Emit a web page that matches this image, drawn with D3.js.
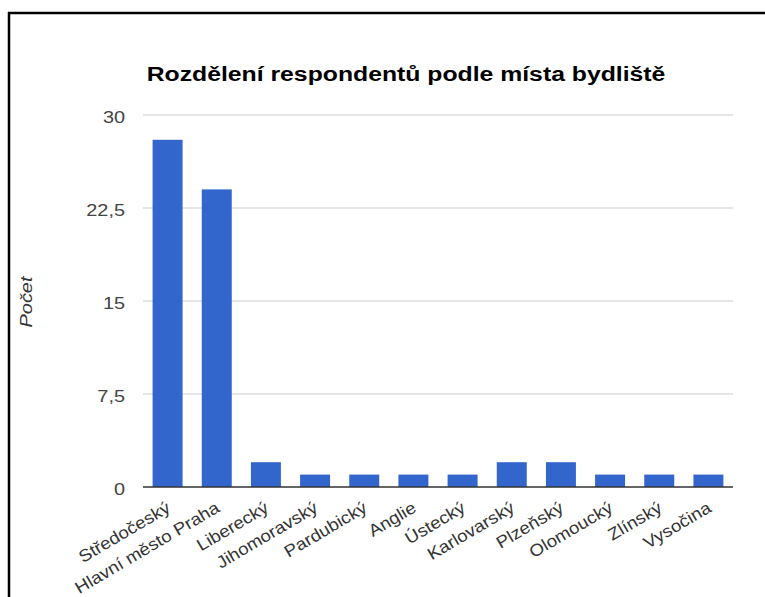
<!DOCTYPE html>
<html>
<head>
<meta charset="utf-8">
<script src="https://cdn.jsdelivr.net/npm/d3@7"></script>
<style>
  html, body { margin: 0; padding: 0; background: #fff; }
  svg { display: block; }
</style>
</head>
<body>
<script>
// Respondents by region of residence
const regions = ["Středočeský", "Hlavní město Praha", "Liberecký", "Jihomoravský", "Pardubický",
  "Anglie", "Ústecký", "Karlovarský", "Plzeňský", "Olomoucký", "Zlínský", "Vysočina"];
const counts = [28, 24, 2, 1, 1, 1, 1, 2, 2, 1, 1, 1];
const yTicks = [0, 7.5, 15, 22.5, 30];
const yTickLabels = ["0", "7,5", "15", "22,5", "30"];
const chartTitle = "Rozdělení respondentů podle místa bydliště";
const yTitle = "Počet";

const W = 765, H = 597;
const plot = { left: 143, right: 733, top: 115, bottom: 487 };
const FONT = "Liberation Sans, Arial, Helvetica, sans-serif";
const STRETCH = 1.17; // labels are set slightly wide along their reading direction

const svg = d3.select("body").append("svg").attr("width", W).attr("height", H);

// frame around the chart
svg.append("line").attr("x1", 8).attr("x2", W).attr("y1", 13).attr("y2", 13)
  .attr("stroke", "#000").attr("stroke-width", 2.5);
svg.append("line").attr("x1", 9).attr("x2", 9).attr("y1", 12).attr("y2", H)
  .attr("stroke", "#000").attr("stroke-width", 2.5);

const x = d3.scaleBand().domain(regions).range([plot.left, plot.right]).paddingInner(0.39).paddingOuter(0.195);
const y = d3.scaleLinear().domain([0, 30]).range([plot.bottom, plot.top]);

// gridlines
svg.append("g").selectAll("line").data(yTicks.filter(d => d > 0)).join("line")
  .attr("x1", plot.left).attr("x2", plot.right)
  .attr("y1", d => y(d)).attr("y2", d => y(d))
  .attr("stroke", "#cccccc").attr("stroke-width", 1.2);

// y tick labels
const yAxis = d3.axisLeft(y).tickValues(yTicks).tickSize(0).tickPadding(0)
  .tickFormat((d, i) => yTickLabels[i]);
const gy = svg.append("g").attr("transform", `translate(${plot.left - 18},0)`).call(yAxis);
gy.select(".domain").remove();
gy.selectAll(".tick text")
  .attr("x", null).attr("dy", "0.45em")
  .attr("transform", `scale(${STRETCH},1)`)
  .attr("font-family", FONT).attr("font-size", 17).attr("fill", "#444");

// bars
svg.append("g").selectAll("rect").data(regions).join("rect")
  .attr("x", d => x(d)).attr("width", x.bandwidth())
  .attr("y", (d, i) => y(counts[i])).attr("height", (d, i) => y(0) - y(counts[i]))
  .attr("fill", "#3366cc");

// baseline
svg.append("line").attr("x1", plot.left).attr("x2", plot.right)
  .attr("y1", y(0)).attr("y2", y(0)).attr("stroke", "#333").attr("stroke-width", 1.5);

// x labels, slanted
const xAxis = d3.axisBottom(x).tickSize(0).tickPadding(0);
const gx = svg.append("g").attr("transform", `translate(0,${plot.bottom})`).call(xAxis);
gx.select(".domain").remove();
gx.selectAll(".tick text")
  .attr("font-family", FONT).attr("font-size", 17).attr("fill", "#333")
  .attr("text-anchor", "end").attr("dy", null).attr("y", null)
  .attr("transform", `translate(4,24) rotate(-30.5) scale(1.10,1)`);

// title
svg.append("text").attr("transform", `translate(406,81) scale(${STRETCH + 0.01},1)`)
  .attr("text-anchor", "middle")
  .attr("font-family", FONT).attr("font-weight", "bold")
  .attr("font-size", 21).attr("fill", "#000").text(chartTitle);

// y axis title
svg.append("text").attr("transform", `translate(32,302) rotate(-90) scale(${STRETCH},1)`)
  .attr("text-anchor", "middle")
  .attr("font-family", FONT).attr("font-style", "italic")
  .attr("font-size", 17).attr("fill", "#333").text(yTitle);
</script>
</body>
</html>
